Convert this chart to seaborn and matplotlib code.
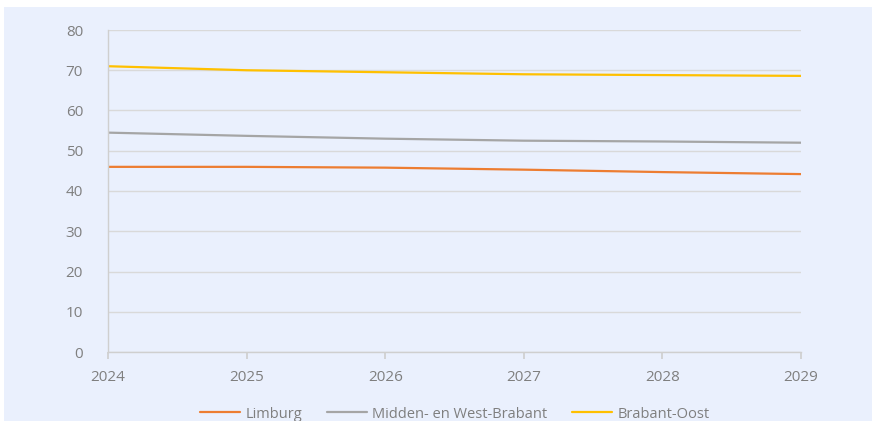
import matplotlib
matplotlib.use("Agg")
import matplotlib.pyplot as plt
import seaborn as sns
import pandas as pd
from matplotlib.patches import Rectangle
from matplotlib.lines import Line2D

years = [2024, 2025, 2026, 2027, 2028, 2029]
limburg = [46.0, 46.0, 45.8, 45.3, 44.7, 44.2]
midden_west_brabant = [54.5, 53.7, 53.0, 52.5, 52.3, 52.0]
brabant_oost = [71.0, 70.0, 69.5, 69.0, 68.8, 68.6]
series_names = ["Limburg", "Midden- en West-Brabant", "Brabant-Oost"]
colors = ["#ED7D31", "#A5A5A5", "#FFC000"]

rows = []
for name, vals in zip(series_names, [limburg, midden_west_brabant, brabant_oost]):
    for y, v in zip(years, vals):
        rows.append({"jaar": y, "waarde": v, "regio": name})
df = pd.DataFrame(rows)

sns.set_theme(style="white")
plt.rcParams['font.family'] = ['Open Sans', 'DejaVu Sans']

bg = "#EAF0FD"
fig = plt.figure(figsize=(8.72, 4.21), dpi=100, facecolor="white")
fig.patches.append(Rectangle((4/872, 0), 1, 1 - 7/421, transform=fig.transFigure,
                             facecolor=bg, edgecolor="none", zorder=-10))
ax = fig.add_axes([108/872, 1 - 352/421, (801-108)/872, (352-30)/421])
ax.set_facecolor(bg)

sns.lineplot(data=df, x="jaar", y="waarde", hue="regio", hue_order=series_names,
             palette=colors, linewidth=1.6, ax=ax, legend=False)

ax.set_xlim(2024, 2029)
ax.set_ylim(0, 80)
ax.set_xticks(years)
ax.set_xticklabels([str(y) for y in years])
ax.set_yticks(range(0, 81, 10))
ax.yaxis.grid(True, color="#D9D9D9", linewidth=1)
ax.xaxis.grid(False)
ax.set_axisbelow(True)
for s in ["top", "right"]:
    ax.spines[s].set_visible(False)
for s in ["left", "bottom"]:
    ax.spines[s].set_color("#CFCFCF")
    ax.spines[s].set_linewidth(1)
ax.tick_params(axis="x", bottom=True, length=5, color="#CFCFCF", colors="#7F7F7F",
               labelsize=11, pad=8)
ax.tick_params(axis="y", left=False, colors="#7F7F7F", labelsize=11, pad=12)
ax.set_xlabel("")
ax.set_ylabel("")

handles = [Line2D([0], [0], color=c, linewidth=1.6) for c in colors]
fig.legend(handles, series_names, loc="center", bbox_to_anchor=(455/872, 1 - 414/421),
           ncol=3, frameon=False, fontsize=10.5, labelcolor="#7F7F7F",
           handlelength=2.7, columnspacing=1.7, handletextpad=0.4)

fig.savefig("out.png", dpi=100, facecolor="white")
